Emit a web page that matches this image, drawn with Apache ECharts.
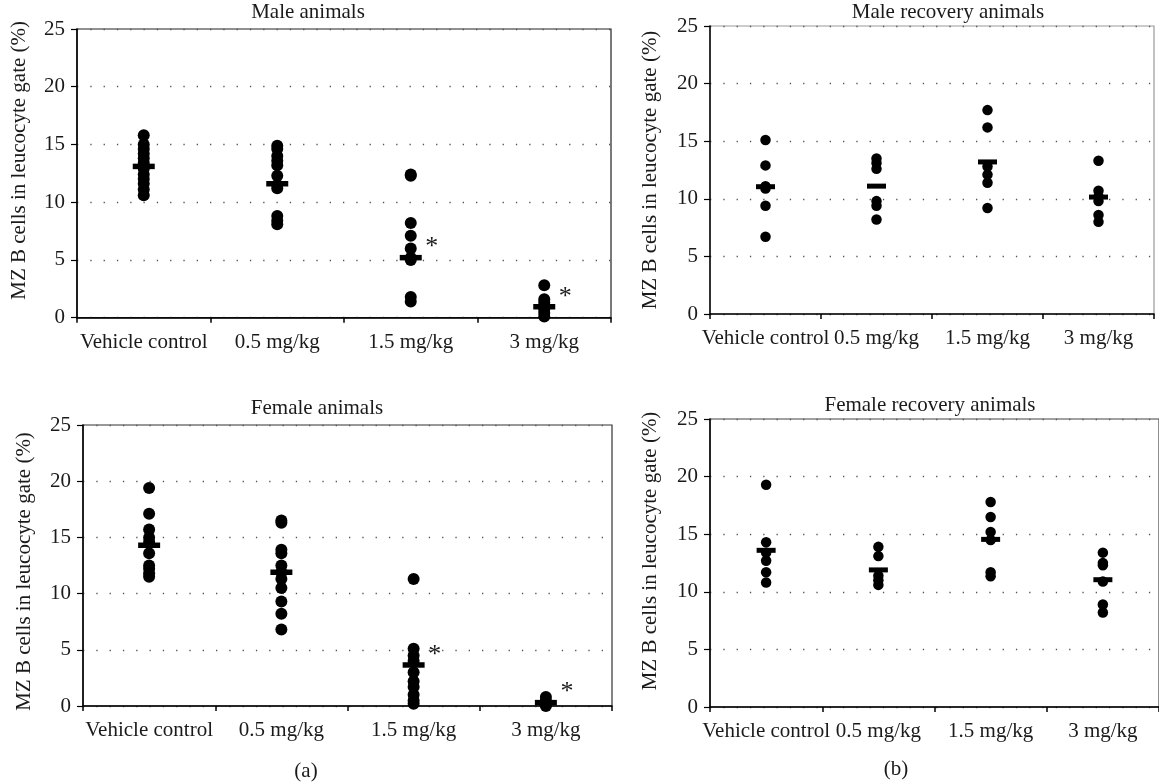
<!DOCTYPE html>
<html>
<head>
<meta charset="utf-8">
<script src="https://cdn.jsdelivr.net/npm/echarts@6/dist/echarts.min.js"></script>
<style>
html,body{margin:0;padding:0;background:#fff;}
#chart{width:1159px;height:784px;}
</style>
</head>
<body>
<div id="chart"></div>
<script>
// ---- data ----
const categories = ['Vehicle control', '0.5 mg/kg', '1.5 mg/kg', '3 mg/kg'];
const panelTitles = ['Male animals', 'Male recovery animals', 'Female animals', 'Female recovery animals'];
const yAxisName = 'MZ B cells in leucocyte gate (%)';
const yMin = 0, yMax = 25, yStep = 5;
const figureLabels = ['(a)', '(b)'];

const maleVehicle = [15.8, 15.0, 14.6, 14.2, 13.8, 13.4, 12.9, 12.4, 12.0, 11.6, 11.1, 10.6];
const male05 = [14.9, 14.6, 14.0, 13.6, 13.2, 12.3, 11.5, 11.2, 8.8, 8.4, 8.1];
const male15 = [12.4, 12.3, 8.2, 7.1, 6.0, 5.2, 5.0, 1.8, 1.4];
const male3 = [2.8, 1.6, 1.3, 1.0, 0.7, 0.4, 0.1];
const maleMeans = [13.1, 11.6, 5.2, 0.95];
const maleSig = [false, false, true, true];

const maleRecVehicle = [15.1, 12.9, 11.1, 10.9, 9.4, 6.7];
const maleRec05 = [13.5, 13.1, 12.6, 9.8, 9.4, 8.2];
const maleRec15 = [17.7, 16.2, 12.8, 12.1, 11.4, 9.2];
const maleRec3 = [13.3, 10.7, 10.2, 9.8, 8.6, 8.0];
const maleRecMeans = [11.05, 11.1, 13.2, 10.15];
const maleRecSig = [false, false, false, false];

const femaleVehicle = [19.4, 17.1, 15.7, 15.0, 14.6, 13.6, 12.5, 12.2, 11.8, 11.5];
const female05 = [16.5, 16.3, 13.9, 13.6, 12.5, 11.9, 11.3, 10.5, 9.3, 8.2, 6.8];
const female15 = [11.3, 5.1, 4.5, 4.0, 3.0, 2.2, 1.7, 1.0, 0.5, 0.2];
const female3 = [0.8, 0.5, 0.3, 0.1, 0.0];
const femaleMeans = [14.3, 11.9, 3.65, 0.3];
const femaleSig = [false, false, true, true];

const femaleRecVehicle = [19.3, 14.3, 13.4, 12.7, 11.7, 10.8];
const femaleRec05 = [13.9, 13.1, 11.4, 11.0, 10.6];
const femaleRec15 = [17.8, 16.5, 15.2, 14.5, 11.7, 11.35];
const femaleRec3 = [13.4, 12.5, 12.3, 10.9, 8.9, 8.2];
const femaleRecMeans = [13.6, 11.9, 14.55, 11.05];
const femaleRecSig = [false, false, false, false];

const panels = [
  { cols: [maleVehicle, male05, male15, male3], means: maleMeans, sig: maleSig },
  { cols: [maleRecVehicle, maleRec05, maleRec15, maleRec3], means: maleRecMeans, sig: maleRecSig },
  { cols: [femaleVehicle, female05, female15, female3], means: femaleMeans, sig: femaleSig },
  { cols: [femaleRecVehicle, femaleRec05, femaleRec15, femaleRec3], means: femaleRecMeans, sig: femaleRecSig }
];

// ---- layout / style ----
const FONT = 'Liberation Serif';
const FS = 21;
const TXT = '#1a1a1a';
const layout = [
  { left: 77, top: 29, width: 534, height: 288.7, border: '#222', dot: 12, bar: [22, 5.5], nameGap: 47, namePad: [0, 0, 0, 26], title: [308, 12] },
  { left: 710, top: 26, width: 444, height: 288, border: '#999', dot: 10.5, bar: [19, 5], nameGap: 49, namePad: [0, 0, 0, 0], title: [948, 12] },
  { left: 83, top: 425, width: 529, height: 281, border: '#333', dot: 12, bar: [22, 5.5], nameGap: 48, namePad: [0, 12, 0, 0], title: [317, 408] },
  { left: 710, top: 419, width: 455, height: 288, border: '#444', dot: 10.5, bar: [19, 5], nameGap: 49, namePad: [0, 0, 0, 24], title: [930, 405] }
];
const figLabelPos = [[306, 771], [896, 769]];

const grids = [], xAxes = [], yAxes = [], series = [], graphics = [];
layout.forEach((L, p) => {
  grids.push({ left: L.left, top: L.top, width: L.width, height: L.height, show: true,
    borderColor: L.border, borderWidth: 1.2, backgroundColor: 'transparent' });
  xAxes.push({
    type: 'category', gridIndex: p, data: categories, boundaryGap: true,
    axisLine: { show: true, lineStyle: { color: '#000', width: 1.5 } },
    axisTick: { show: true, length: 5, lineStyle: { color: '#000', width: 1.5 } },
    axisLabel: { color: TXT, fontFamily: FONT, fontSize: FS, margin: 14, interval: 0 },
    splitLine: { show: false }
  });
  yAxes.push({
    type: 'value', gridIndex: p, min: yMin, max: yMax, interval: yStep,
    name: yAxisName, nameLocation: 'middle', nameGap: L.nameGap, nameRotate: 90,
    nameTextStyle: { color: TXT, fontFamily: FONT, fontSize: FS, padding: L.namePad },
    axisLine: { show: true, lineStyle: { color: '#000', width: 1.5 } },
    axisTick: { show: true, length: 6, lineStyle: { color: '#000', width: 1.2 } },
    axisLabel: { color: TXT, fontFamily: FONT, fontSize: FS, margin: 12 },
    splitLine: { show: true, lineStyle: { color: '#555', width: 1.3, type: [1.3, 12] } }
  });
  const P = panels[p];
  const dots = [];
  P.cols.forEach((col, i) => col.forEach(v => dots.push([i, v])));
  series.push({ type: 'scatter', xAxisIndex: p, yAxisIndex: p, data: dots, symbol: 'circle',
    symbolSize: L.dot, itemStyle: { color: '#000', opacity: 1 }, silent: true, z: 3 });
  series.push({ type: 'scatter', xAxisIndex: p, yAxisIndex: p,
    data: P.means.map((m, i) => [i, m]), symbol: 'rect', symbolSize: L.bar,
    itemStyle: { color: '#000', opacity: 1 }, silent: true, z: 4 });
  const sigData = [];
  P.sig.forEach((s, i) => { if (s) sigData.push([i, P.means[i]]); });
  series.push({ type: 'scatter', xAxisIndex: p, yAxisIndex: p, data: sigData, symbolSize: 0,
    itemStyle: { opacity: 1 },
    label: { show: true, formatter: '*', position: 'inside', offset: [21, -10],
      color: '#1a1a1a', fontFamily: FONT, fontSize: 26 }, silent: true, z: 5 });
  graphics.push({ type: 'text', x: L.title[0], y: L.title[1],
    style: { text: panelTitles[p], font: FS + 'px "' + FONT + '"', fill: TXT, textAlign: 'center', textVerticalAlign: 'middle' } });
});
figureLabels.forEach((t, i) => graphics.push({ type: 'text', x: figLabelPos[i][0], y: figLabelPos[i][1],
  style: { text: t, font: FS + 'px "' + FONT + '"', fill: TXT, textAlign: 'center', textVerticalAlign: 'middle' } }));

const chart = echarts.init(document.getElementById('chart'), null, { renderer: 'canvas' });
chart.setOption({
  animation: false,
  backgroundColor: '#fff',
  grid: grids, xAxis: xAxes, yAxis: yAxes, series: series, graphic: graphics
});
</script>
</body>
</html>
